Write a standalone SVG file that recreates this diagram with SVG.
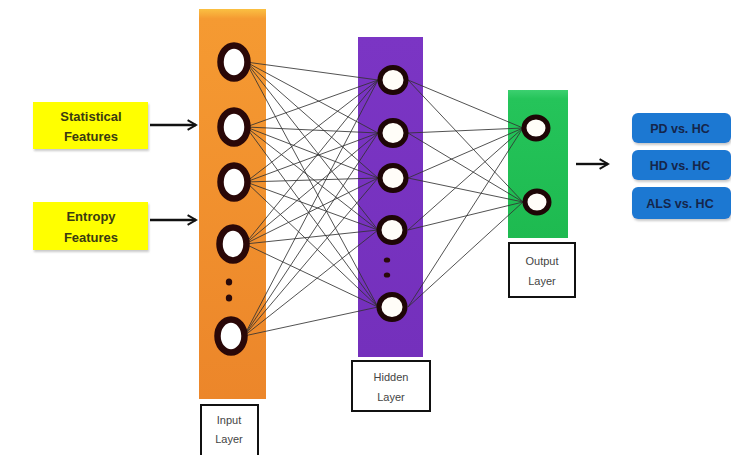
<svg xmlns="http://www.w3.org/2000/svg" width="731" height="455" viewBox="0 0 731 455">
  <defs>
    <linearGradient id="gOrange" x1="0" y1="0" x2="0" y2="1">
      <stop offset="0" stop-color="#FAC042"/>
      <stop offset="0.025" stop-color="#F59A32"/>
      <stop offset="1" stop-color="#EC862A"/>
    </linearGradient>
    <linearGradient id="gPurple" x1="0" y1="0" x2="0" y2="1">
      <stop offset="0" stop-color="#7B35C4"/>
      <stop offset="1" stop-color="#7430BC"/>
    </linearGradient>
    <linearGradient id="gGreen" x1="0" y1="0" x2="0" y2="1">
      <stop offset="0" stop-color="#3CD070"/>
      <stop offset="0.06" stop-color="#25C45A"/>
      <stop offset="1" stop-color="#1EBA50"/>
    </linearGradient>
    <filter id="soft" x="-10%" y="-10%" width="120%" height="130%">
      <feDropShadow dx="1" dy="2" stdDeviation="1.2" flood-color="#888" flood-opacity="0.45"/>
    </filter>
    <marker id="arrow" viewBox="0 0 10 10" refX="8" refY="5" markerWidth="5" markerHeight="5" orient="auto" markerUnits="strokeWidth">
      <path d="M1,1 L8,5 L1,9" fill="none" stroke="#111" stroke-width="1.6" stroke-linejoin="miter"/>
    </marker>
  </defs>
  <style>
    .node { fill: #FFFFFF; stroke: #2A0808; stroke-width: 6.5; }
    .hnode { fill: #FFFDF8; stroke: #1E0606; stroke-width: 5; }
    .dot { fill: #2A0A0A; }
    .link { stroke: #333333; stroke-width: 0.85; fill: none; }
    .feat { fill: #FFFF00; filter: url(#soft); }
    .featText { font-family: "Liberation Sans", Arial, sans-serif; font-weight: bold; font-size: 13px; fill: #3A3A12; text-anchor: middle; }
    .label { fill: #FFFFFF; stroke: #111; stroke-width: 2; }
    .labelText { font-family: "Liberation Sans", Arial, sans-serif; font-size: 11px; fill: #444; text-anchor: middle; }
    .cls { fill: #1E78D2; filter: url(#soft); }
    .clsText { font-family: "Liberation Sans", Arial, sans-serif; font-weight: bold; font-size: 12.5px; fill: #15254A; text-anchor: middle; }
    .arr { stroke: #111; stroke-width: 2.4; fill: none; }
  </style>

  <rect width="731" height="455" fill="#FFFFFF"/>

  <!-- input features -->
  <g id="statistical-features">
    <rect class="feat" x="33" y="102" width="115" height="47"/>
    <text class="featText" x="91" y="121">Statistical</text>
    <text class="featText" x="91" y="141">Features</text>
  </g>
  <g id="entropy-features">
    <rect class="feat" x="33" y="202" width="115" height="48"/>
    <text class="featText" x="91" y="221">Entropy</text>
    <text class="featText" x="91" y="242">Features</text>
  </g>

  <!-- layer bars -->
  <g id="input-layer">
    <rect x="199" y="9" width="67" height="390" fill="url(#gOrange)"/>
  </g>
  <g id="hidden-layer">
    <rect x="358" y="37" width="65" height="320" fill="url(#gPurple)"/>
  </g>
  <g id="output-layer">
    <rect x="508" y="90" width="60" height="148" fill="url(#gGreen)"/>
  </g>

  <!-- fully connected links -->
  <g id="connectors">
    <g class="link">
      <line x1="246" y1="62" x2="378" y2="80"/>
      <line x1="246" y1="62" x2="378" y2="133"/>
      <line x1="246" y1="62" x2="378" y2="178"/>
      <line x1="246" y1="62" x2="378" y2="230"/>
      <line x1="246" y1="62" x2="378" y2="307"/>
      <line x1="246" y1="127" x2="378" y2="80"/>
      <line x1="246" y1="127" x2="378" y2="133"/>
      <line x1="246" y1="127" x2="378" y2="178"/>
      <line x1="246" y1="127" x2="378" y2="230"/>
      <line x1="246" y1="127" x2="378" y2="307"/>
      <line x1="246" y1="182" x2="378" y2="80"/>
      <line x1="246" y1="182" x2="378" y2="133"/>
      <line x1="246" y1="182" x2="378" y2="178"/>
      <line x1="246" y1="182" x2="378" y2="230"/>
      <line x1="246" y1="182" x2="378" y2="307"/>
      <line x1="245" y1="244" x2="378" y2="80"/>
      <line x1="245" y1="244" x2="378" y2="133"/>
      <line x1="245" y1="244" x2="378" y2="178"/>
      <line x1="245" y1="244" x2="378" y2="230"/>
      <line x1="245" y1="244" x2="378" y2="307"/>
      <line x1="244" y1="336" x2="378" y2="80"/>
      <line x1="244" y1="336" x2="378" y2="133"/>
      <line x1="244" y1="336" x2="378" y2="178"/>
      <line x1="244" y1="336" x2="378" y2="230"/>
      <line x1="244" y1="336" x2="378" y2="307"/>

      <line x1="408" y1="80" x2="523" y2="128"/>
      <line x1="408" y1="80" x2="523" y2="202"/>
      <line x1="408" y1="133" x2="523" y2="128"/>
      <line x1="408" y1="133" x2="523" y2="202"/>
      <line x1="408" y1="178" x2="523" y2="128"/>
      <line x1="408" y1="178" x2="523" y2="202"/>
      <line x1="408" y1="230" x2="523" y2="128"/>
      <line x1="408" y1="230" x2="523" y2="202"/>
      <line x1="408" y1="307" x2="523" y2="128"/>
      <line x1="408" y1="307" x2="523" y2="202"/>
    </g>
    <line class="arr" x1="150" y1="125" x2="196" y2="125" marker-end="url(#arrow)"/>
    <line class="arr" x1="150" y1="220" x2="196" y2="220" marker-end="url(#arrow)"/>
    <line class="arr" x1="576" y1="164" x2="608" y2="164" marker-end="url(#arrow)"/>
  </g>

  <!-- input neurons -->
  <g id="input-neurons">
    <ellipse class="node" cx="234" cy="62" rx="13.5" ry="16.5"/>
    <ellipse class="node" cx="234" cy="127" rx="13.5" ry="16.5"/>
    <ellipse class="node" cx="234" cy="182" rx="13.5" ry="16.5"/>
    <ellipse class="node" cx="233" cy="244" rx="13.5" ry="16.5"/>
    <ellipse class="node" cx="231" cy="336" rx="13.5" ry="16.5"/>
    <ellipse class="dot" cx="229" cy="282" rx="3.2" ry="3.6"/>
    <ellipse class="dot" cx="229" cy="298" rx="3.2" ry="3.6"/>
  </g>

  <!-- hidden neurons -->
  <g id="hidden-neurons">
    <ellipse class="hnode" cx="393" cy="80" rx="13" ry="12.5"/>
    <ellipse class="hnode" cx="393" cy="133" rx="13" ry="12.5"/>
    <ellipse class="hnode" cx="393" cy="178" rx="13" ry="12.5"/>
    <ellipse class="hnode" cx="392" cy="230" rx="13" ry="12.5"/>
    <ellipse class="hnode" cx="392" cy="307" rx="13" ry="12.5"/>
    <ellipse class="dot" cx="387" cy="260" rx="3.2" ry="2.6"/>
    <ellipse class="dot" cx="387" cy="275" rx="3.2" ry="2.6"/>
  </g>

  <!-- output neurons -->
  <g id="output-neurons">
    <ellipse class="hnode" cx="536" cy="128" rx="12" ry="11"/>
    <ellipse class="hnode" cx="537" cy="202" rx="12" ry="11"/>
  </g>

  <!-- layer captions -->
  <g id="input-caption">
    <rect class="label" x="201" y="405" width="57" height="52"/>
    <text class="labelText" x="229" y="424">Input</text>
    <text class="labelText" x="229" y="443">Layer</text>
  </g>
  <g id="hidden-caption">
    <rect class="label" x="352" y="361" width="78" height="50"/>
    <text class="labelText" x="391" y="381">Hidden</text>
    <text class="labelText" x="391" y="401">Layer</text>
  </g>
  <g id="output-caption">
    <rect class="label" x="509" y="243" width="66" height="54"/>
    <text class="labelText" x="542" y="265">Output</text>
    <text class="labelText" x="542" y="285">Layer</text>
  </g>

  <!-- classification tasks -->
  <g id="task-pd">
    <rect class="cls" x="632" y="113" width="99" height="30" rx="6"/>
    <text class="clsText" x="680" y="132.5">PD vs. HC</text>
  </g>
  <g id="task-hd">
    <rect class="cls" x="632" y="150" width="99" height="30" rx="6"/>
    <text class="clsText" x="680" y="169.5">HD vs. HC</text>
  </g>
  <g id="task-als">
    <rect class="cls" x="632" y="187" width="99" height="32" rx="6"/>
    <text class="clsText" x="680" y="207.5">ALS vs. HC</text>
  </g>
</svg>
